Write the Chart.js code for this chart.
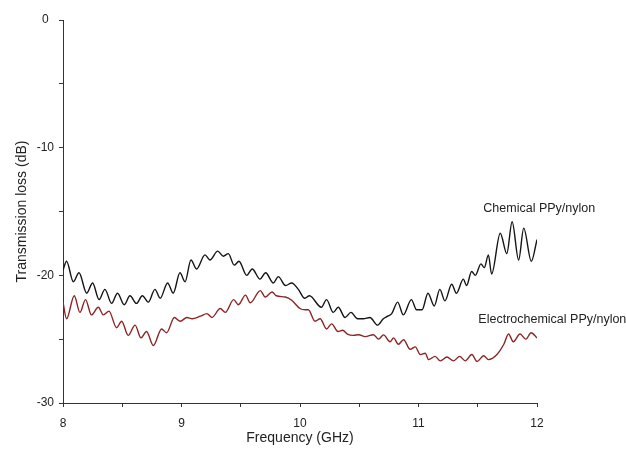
<!DOCTYPE html>
<html>
<head>
<meta charset="utf-8">
<script src="https://cdn.jsdelivr.net/npm/chart.js@4/dist/chart.umd.min.js"></script>
<style>
  html, body { margin: 0; padding: 0; background: #ffffff; }
  #c { display: block; }
</style>
</head>
<body>
<canvas id="c" width="626" height="450"></canvas>
<script>
// ---- Data (peaks / troughs of each trace) ----
const chemFreq = [8.00, 8.03, 8.087, 8.135, 8.20, 8.25, 8.304, 8.354, 8.41, 8.46, 8.517, 8.565, 8.62, 8.67, 8.72, 8.776, 8.82, 8.883, 8.93, 8.987,
  9.03, 9.08, 9.127, 9.198, 9.24, 9.305, 9.353, 9.395, 9.445, 9.485, 9.55, 9.597, 9.662, 9.71, 9.775, 9.817, 9.878, 9.93, 9.986,
  10.04, 10.08, 10.18, 10.224, 10.28, 10.323, 10.38, 10.43, 10.486, 10.534, 10.59, 10.655, 10.703, 10.74, 10.774, 10.824, 10.872, 10.94, 10.984,
  11.03, 11.08, 11.133, 11.18, 11.223, 11.28, 11.32, 11.378, 11.406, 11.448, 11.48, 11.527, 11.555, 11.59, 11.617, 11.69, 11.745, 11.79, 11.845, 11.888, 11.952, 12.00];
const chemLoss = [-19.6, -18.9, -20.5, -19.8, -21.4, -20.6, -21.9, -21.1, -22.2, -21.4, -22.3, -21.6, -22.2, -21.6, -22.1, -21.1, -21.8, -20.6, -21.4, -19.8,
  -20.5, -18.8, -19.5, -18.4, -18.8, -18.1, -18.5, -18.3, -19.2, -18.9, -20.0, -19.5, -20.3, -19.8, -20.6, -20.1, -20.8, -20.6, -21.1,
  -21.8, -21.6, -22.5, -21.9, -22.9, -22.5, -23.3, -22.9, -23.4, -23.4, -23.3, -23.9, -23.4, -23.2, -23.0, -22.1, -23.1, -21.9, -22.7,
  -22.7, -21.4, -22.4, -21.1, -22.0, -20.7, -21.4, -20.3, -20.8, -19.7, -20.0, -19.1, -19.4, -18.4, -19.9, -16.7, -18.3, -15.8, -18.8, -16.3, -18.9, -17.2];

const elecFreq = [8.00, 8.03, 8.095, 8.143, 8.19, 8.24, 8.298, 8.34, 8.388, 8.452, 8.495, 8.55, 8.608, 8.658, 8.705, 8.762, 8.832, 8.874, 8.94, 8.99,
  9.045, 9.09, 9.16, 9.215, 9.257, 9.327, 9.37, 9.44, 9.48, 9.54, 9.58, 9.665, 9.707, 9.764, 9.80, 9.876, 9.93, 10.00, 10.045,
  10.07, 10.127, 10.17, 10.224, 10.267, 10.32, 10.36, 10.40, 10.45, 10.495, 10.55, 10.62, 10.663, 10.705, 10.76, 10.79, 10.83, 10.874, 10.93, 10.973,
  11.015, 11.057, 11.085, 11.14, 11.184, 11.24, 11.296, 11.347, 11.395, 11.45, 11.494, 11.55, 11.59, 11.662, 11.72, 11.76, 11.80, 11.857, 11.906, 11.95, 12.00];
const elecLoss = [-22.1, -23.4, -21.6, -22.9, -21.9, -23.1, -22.5, -23.1, -22.8, -24.1, -23.6, -24.7, -23.9, -24.9, -24.4, -25.5, -24.2, -24.5, -23.3, -23.6,
  -23.3, -23.4, -23.2, -23.0, -23.3, -22.6, -22.9, -21.9, -22.3, -21.55, -22.15, -21.2, -21.7, -21.3, -21.6, -21.7, -21.95, -22.6, -22.7,
  -22.7, -23.6, -23.4, -24.2, -23.8, -24.4, -24.3, -24.6, -24.7, -24.65, -24.8, -24.65, -25.0, -24.66, -25.2, -24.9, -25.4, -25.05, -25.8, -25.6,
  -26.2, -26.1, -26.6, -26.35, -26.7, -26.4, -26.7, -26.35, -26.7, -26.2, -26.75, -26.3, -26.6, -26.2, -25.4, -24.6, -25.2, -24.6, -25.0, -24.5, -24.9];

const seriesNames = ["Chemical PPy/nylon", "Electrochemical PPy/nylon"];
const seriesColors = ["#151515", "#8b2525"];
// label anchor points in data units (GHz, dB)
const labelFreq = [11.547, 11.505];
const labelLoss = [-14.8, -23.5];

const xTicksMajor = [8, 9, 10, 11, 12];
const yTicksMajor = [0, -10, -20, -30];

const FONT = '"Liberation Sans", Arial, sans-serif';
const TEXT = '#222222';
const AXIS = '#333333';

const toPts = (xs, ys) => xs.map((x, i) => ({ x: x, y: ys[i] }));

const seriesLabels = {
  id: 'seriesLabels',
  afterDatasetsDraw(chart) {
    const { ctx, scales } = chart;
    ctx.save();
    ctx.font = '12.5px ' + FONT;
    ctx.fillStyle = TEXT;
    ctx.textAlign = 'left';
    ctx.textBaseline = 'middle';
    seriesNames.forEach((name, i) => {
      ctx.fillText(name, scales.x.getPixelForValue(labelFreq[i]), scales.y.getPixelForValue(labelLoss[i]));
    });
    ctx.restore();
  }
};

new Chart(document.getElementById('c'), {
  type: 'line',
  data: {
    datasets: [
      { label: seriesNames[0], data: toPts(chemFreq, chemLoss), borderColor: seriesColors[0], borderWidth: 1.4,
        pointRadius: 0, cubicInterpolationMode: 'monotone', fill: false },
      { label: seriesNames[1], data: toPts(elecFreq, elecLoss), borderColor: seriesColors[1], borderWidth: 1.4,
        pointRadius: 0, cubicInterpolationMode: 'monotone', fill: false }
    ]
  },
  options: {
    responsive: false,
    animation: false,
    devicePixelRatio: 1,
    layout: { padding: { left: 0, right: 89, top: 20, bottom: 0 } },
    plugins: { legend: { display: false }, tooltip: { enabled: false } },
    scales: {
      x: {
        type: 'linear', min: 8, max: 12,
        afterFit(s) { s.height = 47; },
        ticks: { stepSize: 0.5, autoSkip: false, maxRotation: 0, padding: 9, color: TEXT,
          font: { family: FONT, size: 12 },
          callback: v => xTicksMajor.includes(v) ? String(v) : '' },
        grid: { drawOnChartArea: false, drawTicks: true, tickLength: 4, color: AXIS, tickColor: AXIS },
        border: { display: true, color: AXIS, width: 1 },
        title: { display: true, text: 'Frequency (GHz)', color: TEXT, font: { family: FONT, size: 14 },
          padding: { top: 0, bottom: 3 } }
      },
      y: {
        min: -30, max: 0,
        afterFit(s) { s.width = 63; },
        ticks: { stepSize: 5, autoSkip: false, padding: 5, crossAlign: 'center', color: TEXT,
          font: { family: FONT, size: 12 },
          callback: v => yTicksMajor.includes(v) ? String(v) : '' },
        grid: { drawOnChartArea: false, drawTicks: true, tickLength: 4, color: AXIS, tickColor: AXIS },
        border: { display: true, color: AXIS, width: 1 },
        title: { display: true, text: 'Transmission loss (dB)', color: TEXT, font: { family: FONT, size: 14 },
          padding: { top: 14, bottom: 0 } }
      }
    }
  },
  plugins: [seriesLabels]
});
</script>
</body>
</html>
